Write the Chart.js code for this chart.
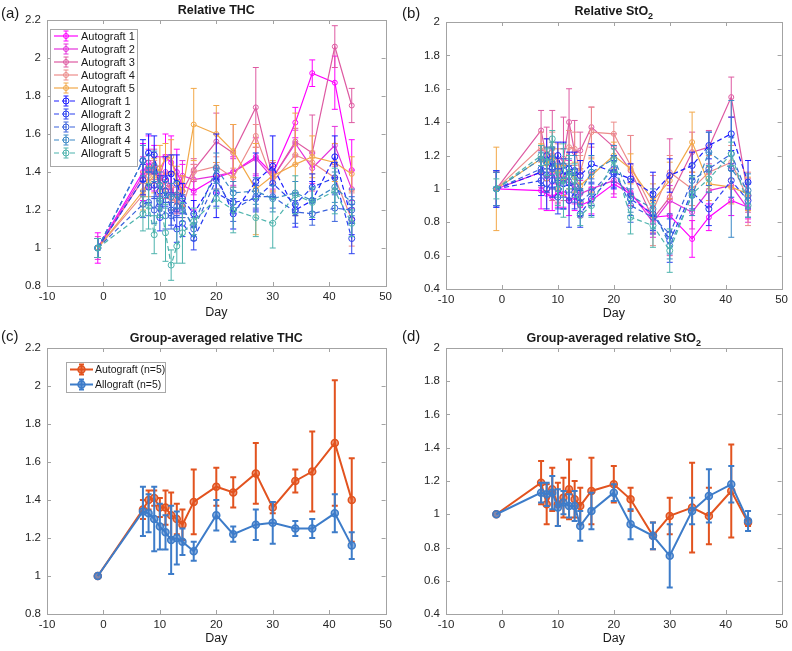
<!DOCTYPE html>
<html>
<head>
<meta charset="utf-8">
<script src="https://cdn.jsdelivr.net/npm/chart.js@4.4.0/dist/chart.umd.min.js"></script>
<style>
  body { margin: 0; background: #fff; width: 792px; height: 651px; position: relative; overflow: hidden; }
  canvas { position: absolute; }
</style>
</head>
<body>
<canvas id="chartA" width="396" height="325" style="left:0;top:0"></canvas>
<canvas id="chartB" width="396" height="325" style="left:396px;top:0"></canvas>
<canvas id="chartC" width="396" height="326" style="left:0;top:325px"></canvas>
<canvas id="chartD" width="396" height="326" style="left:396px;top:325px"></canvas>
<script>
// measurement days
const days = [-1, 7, 8, 9, 10, 11, 12, 13, 14, 16, 20, 23, 27, 30, 34, 37, 41, 44];

// (a) relative THC per animal
const thcAuto1 = [1.00, 1.40, 1.45, 1.42, 1.38, 1.48, 1.45, 1.40, 1.33, 1.30, 1.37, 1.40, 1.48, 1.39, 1.66, 1.92, 1.87, 1.41];
const thcAuto2 = [1.00, 1.38, 1.42, 1.40, 1.35, 1.40, 1.30, 1.28, 1.38, 1.36, 1.38, 1.40, 1.47, 1.37, 1.55, 1.42, 1.54, 1.31];
const thcAuto3 = [1.00, 1.36, 1.40, 1.44, 1.37, 1.33, 1.32, 1.25, 1.30, 1.41, 1.56, 1.50, 1.74, 1.37, 1.56, 1.50, 2.06, 1.75];
const thcAuto4 = [1.00, 1.28, 1.38, 1.40, 1.33, 1.30, 1.26, 1.24, 1.22, 1.40, 1.43, 1.37, 1.59, 1.35, 1.49, 1.45, 1.37, 1.15];
const thcAuto5 = [1.00, 1.30, 1.35, 1.38, 1.42, 1.47, 1.48, 1.35, 1.30, 1.65, 1.60, 1.51, 1.31, 1.38, 1.44, 1.48, 1.45, 1.39];
const thcAllo1 = [1.00, 1.46, 1.50, 1.49, 1.30, 1.36, 1.39, 1.34, 1.26, 1.18, 1.38, 1.18, 1.35, 1.43, 1.20, 1.25, 1.48, 1.15];
const thcAllo2 = [1.00, 1.36, 1.32, 1.33, 1.16, 1.30, 1.20, 1.10, 1.13, 1.05, 1.29, 1.24, 1.26, 1.34, 1.23, 1.32, 1.37, 1.05];
const thcAllo3 = [1.00, 1.23, 1.24, 1.20, 1.26, 1.17, 1.17, 1.22, 1.22, 1.10, 1.36, 1.20, 1.27, 1.27, 1.19, 1.18, 1.21, 1.20];
const thcAllo4 = [1.00, 1.46, 1.41, 1.43, 1.33, 1.28, 1.27, 1.28, 1.20, 1.12, 1.42, 1.29, 1.30, 1.26, 1.29, 1.25, 1.32, 1.24];
const thcAllo5 = [1.00, 1.18, 1.22, 1.07, 1.25, 1.08, 0.91, 1.01, 1.08, 1.14, 1.26, 1.20, 1.16, 1.13, 1.28, 1.24, 1.30, 1.13];

const thcAuto1Err = [0.08, 0.15, 0.14, 0.12, 0.10, 0.12, 0.14, 0.12, 0.11, 0.10, 0.08, 0.08, 0.10, 0.06, 0.08, 0.07, 0.14, 0.16];
const thcAuto2Err = [0.06, 0.10, 0.10, 0.08, 0.08, 0.09, 0.10, 0.08, 0.08, 0.08, 0.07, 0.07, 0.08, 0.06, 0.07, 0.08, 0.10, 0.10];
const thcAuto3Err = [0.05, 0.08, 0.06, 0.08, 0.06, 0.07, 0.08, 0.07, 0.08, 0.06, 0.15, 0.15, 0.21, 0.08, 0.07, 0.20, 0.11, 0.09];
const thcAuto4Err = [0.05, 0.06, 0.05, 0.06, 0.05, 0.06, 0.06, 0.05, 0.06, 0.04, 0.05, 0.05, 0.06, 0.05, 0.05, 0.06, 0.06, 0.14];
const thcAuto5Err = [0.05, 0.10, 0.08, 0.09, 0.12, 0.08, 0.09, 0.08, 0.08, 0.19, 0.15, 0.14, 0.24, 0.08, 0.27, 0.11, 0.10, 0.09];
const thcAllo1Err = [0.05, 0.11, 0.10, 0.10, 0.08, 0.12, 0.10, 0.15, 0.08, 0.07, 0.22, 0.08, 0.15, 0.16, 0.09, 0.10, 0.11, 0.08];
const thcAllo2Err = [0.05, 0.08, 0.08, 0.07, 0.07, 0.08, 0.08, 0.07, 0.07, 0.06, 0.07, 0.06, 0.07, 0.07, 0.06, 0.07, 0.08, 0.08];
const thcAllo3Err = [0.05, 0.07, 0.07, 0.07, 0.06, 0.07, 0.07, 0.06, 0.06, 0.06, 0.06, 0.06, 0.06, 0.06, 0.06, 0.06, 0.07, 0.07];
const thcAllo4Err = [0.05, 0.08, 0.08, 0.08, 0.07, 0.07, 0.07, 0.07, 0.06, 0.06, 0.08, 0.06, 0.07, 0.07, 0.06, 0.06, 0.08, 0.07];
const thcAllo5Err = [0.05, 0.09, 0.12, 0.10, 0.09, 0.15, 0.08, 0.09, 0.16, 0.07, 0.05, 0.12, 0.10, 0.13, 0.10, 0.08, 0.12, 0.07];

// (b) relative StO2 per animal
const stoAuto1 = [1.00, 0.99, 0.97, 0.95, 0.98, 0.97, 0.93, 0.95, 0.90, 0.93, 1.03, 0.97, 0.83, 0.84, 0.70, 0.83, 0.93, 0.89];
const stoAuto2 = [1.00, 1.10, 1.06, 1.10, 1.00, 1.08, 1.05, 1.00, 0.97, 1.00, 1.05, 0.98, 0.80, 0.93, 0.86, 0.99, 1.02, 0.88];
const stoAuto3 = [1.00, 1.35, 1.18, 1.20, 1.05, 1.18, 1.40, 1.22, 1.23, 1.37, 1.25, 1.11, 0.82, 0.95, 1.22, 1.25, 1.55, 0.96];
const stoAuto4 = [1.00, 1.25, 1.21, 1.24, 1.15, 1.14, 1.25, 1.24, 1.10, 1.34, 1.33, 1.14, 0.87, 1.10, 1.00, 1.10, 1.16, 0.94];
const stoAuto5 = [1.00, 1.18, 1.15, 1.19, 1.12, 1.05, 1.10, 1.07, 1.02, 1.08, 1.20, 1.12, 0.93, 1.05, 1.28, 1.03, 1.01, 0.97];
const stoAllo1 = [1.00, 1.10, 1.20, 1.13, 1.20, 1.08, 1.12, 1.11, 1.08, 1.15, 1.10, 1.06, 0.97, 1.08, 1.14, 1.26, 1.33, 1.04];
const stoAllo2 = [1.00, 1.05, 1.00, 1.05, 0.95, 1.03, 0.93, 0.98, 0.85, 0.94, 1.09, 0.94, 0.85, 0.69, 0.98, 0.88, 1.05, 0.93];
const stoAllo3 = [1.00, 1.12, 1.08, 1.12, 1.00, 1.05, 1.04, 1.02, 0.92, 0.98, 1.12, 0.90, 0.83, 0.73, 1.05, 1.12, 1.21, 0.96];
const stoAllo4 = [1.00, 1.18, 1.16, 1.18, 1.05, 1.14, 1.08, 1.10, 0.98, 1.10, 1.18, 0.96, 0.88, 0.66, 0.96, 1.22, 1.12, 0.99];
const stoAllo5 = [1.00, 1.20, 1.16, 1.30, 1.00, 1.05, 1.10, 1.05, 0.84, 0.90, 1.17, 0.83, 0.78, 0.63, 0.97, 1.06, 1.21, 0.90];

const stoAuto1Err = [0.10, 0.11, 0.10, 0.08, 0.09, 0.08, 0.09, 0.08, 0.07, 0.08, 0.08, 0.07, 0.10, 0.10, 0.11, 0.08, 0.09, 0.07];
const stoAuto2Err = [0.10, 0.09, 0.08, 0.10, 0.09, 0.10, 0.12, 0.09, 0.08, 0.10, 0.08, 0.08, 0.09, 0.09, 0.10, 0.10, 0.10, 0.08];
const stoAuto3Err = [0.10, 0.12, 0.19, 0.27, 0.13, 0.25, 0.20, 0.19, 0.11, 0.12, 0.08, 0.21, 0.08, 0.35, 0.12, 0.10, 0.12, 0.10];
const stoAuto4Err = [0.10, 0.09, 0.09, 0.10, 0.12, 0.10, 0.10, 0.10, 0.10, 0.15, 0.07, 0.18, 0.21, 0.10, 0.10, 0.10, 0.10, 0.16];
const stoAuto5Err = [0.25, 0.09, 0.10, 0.09, 0.12, 0.09, 0.10, 0.09, 0.10, 0.10, 0.08, 0.09, 0.10, 0.11, 0.18, 0.10, 0.10, 0.10];
const stoAllo1Err = [0.11, 0.08, 0.10, 0.12, 0.08, 0.20, 0.10, 0.11, 0.09, 0.12, 0.10, 0.09, 0.13, 0.10, 0.08, 0.08, 0.10, 0.13];
const stoAllo2Err = [0.11, 0.09, 0.12, 0.10, 0.10, 0.15, 0.16, 0.10, 0.08, 0.10, 0.08, 0.10, 0.10, 0.13, 0.10, 0.10, 0.10, 0.10];
const stoAllo3Err = [0.10, 0.10, 0.10, 0.12, 0.12, 0.10, 0.10, 0.10, 0.08, 0.08, 0.08, 0.10, 0.10, 0.12, 0.10, 0.10, 0.10, 0.08];
const stoAllo4Err = [0.10, 0.08, 0.09, 0.10, 0.10, 0.10, 0.10, 0.10, 0.08, 0.10, 0.08, 0.10, 0.12, 0.08, 0.12, 0.12, 0.41, 0.10];
const stoAllo5Err = [0.06, 0.06, 0.08, 0.05, 0.10, 0.22, 0.10, 0.10, 0.06, 0.07, 0.07, 0.10, 0.13, 0.13, 0.10, 0.08, 0.07, 0.07];

// (c) group-averaged THC
const thcAutoMean = [1.00, 1.35, 1.40, 1.41, 1.36, 1.36, 1.32, 1.30, 1.27, 1.39, 1.47, 1.44, 1.54, 1.36, 1.50, 1.55, 1.70, 1.40];
const thcAutoSd   = [0.00, 0.05, 0.05, 0.04, 0.05, 0.09, 0.12, 0.08, 0.08, 0.17, 0.10, 0.08, 0.16, 0.03, 0.06, 0.21, 0.33, 0.22];
const thcAlloMean = [1.00, 1.34, 1.33, 1.30, 1.26, 1.23, 1.19, 1.20, 1.18, 1.13, 1.32, 1.22, 1.27, 1.28, 1.25, 1.25, 1.33, 1.16];
const thcAlloSd   = [0.00, 0.13, 0.10, 0.17, 0.12, 0.09, 0.18, 0.14, 0.07, 0.05, 0.08, 0.04, 0.08, 0.11, 0.04, 0.05, 0.10, 0.07];

// (d) group-averaged StO2
const stoAutoMean = [1.00, 1.19, 1.06, 1.15, 1.06, 1.10, 1.15, 1.09, 1.05, 1.14, 1.18, 1.09, 0.87, 0.99, 1.04, 0.99, 1.14, 0.95];
const stoAutoSd   = [0.00, 0.13, 0.12, 0.13, 0.13, 0.12, 0.18, 0.11, 0.11, 0.20, 0.11, 0.07, 0.08, 0.11, 0.27, 0.17, 0.28, 0.02];
const stoAlloMean = [1.00, 1.13, 1.12, 1.13, 1.04, 1.07, 1.05, 1.05, 0.93, 1.02, 1.13, 0.94, 0.87, 0.75, 1.02, 1.11, 1.18, 0.96];
const stoAlloSd   = [0.00, 0.06, 0.07, 0.10, 0.11, 0.07, 0.07, 0.09, 0.09, 0.11, 0.05, 0.09, 0.08, 0.19, 0.08, 0.16, 0.11, 0.06];

const autoLabels = ['Autograft 1', 'Autograft 2', 'Autograft 3', 'Autograft 4', 'Autograft 5'];
const alloLabels = ['Allograft 1', 'Allograft 2', 'Allograft 3', 'Allograft 4', 'Allograft 5'];
const groupLabels = ['Autograft (n=5)', 'Allograft (n=5)'];

const autoColors = ['#ff00ff', '#e431dc', '#de5aa2', '#ec8c8a', '#f2a848'];
const alloColors = ['#1c1cff', '#2a40f0', '#3a62dc', '#3a88c6', '#4db3ad'];
const groupColors = ['#e2531f', '#3d7cc9'];

const FONT = '"Liberation Sans", Arial, Helvetica, sans-serif';

// error bars drawn under each dataset
const errorBars = {
    id: 'errorBars',
    beforeDatasetDraw(chart, args) {
        const ds = chart.data.datasets[args.index];
        if (!ds.err) return;
        const y = chart.scales.y;
        const ctx = chart.ctx;
        ctx.save();
        ctx.strokeStyle = ds.borderColor;
        ctx.lineWidth = ds.errWidth;
        ctx.setLineDash([]);
        args.meta.data.forEach((pt, i) => {
            const e = ds.err[i];
            if (!e) return;
            const v = ds.data[i].y;
            const top = y.getPixelForValue(v + e);
            const bot = y.getPixelForValue(v - e);
            const c = ds.capHalf;
            ctx.beginPath();
            ctx.moveTo(pt.x, top); ctx.lineTo(pt.x, bot);
            ctx.moveTo(pt.x - c, top); ctx.lineTo(pt.x + c, top);
            ctx.moveTo(pt.x - c, bot); ctx.lineTo(pt.x + c, bot);
            ctx.stroke();
        });
        ctx.restore();
    }
};

// box, inward ticks, titles, legend
const panelDecor = {
    id: 'panelDecor',
    afterDraw(chart, args, o) {
        const ctx = chart.ctx;
        const a = chart.chartArea;
        const xs = chart.scales.x, ys = chart.scales.y;
        ctx.save();
        ctx.strokeStyle = '#a3a3a3';
        ctx.lineWidth = 1;
        ctx.setLineDash([]);
        ctx.strokeRect(Math.round(a.left) + 0.5, Math.round(a.top) + 0.5, Math.round(a.right - a.left), Math.round(a.bottom - a.top));
        ctx.beginPath();
        xs.ticks.forEach(t => {
            const px = Math.round(xs.getPixelForValue(t.value)) + 0.5;
            ctx.moveTo(px, a.bottom); ctx.lineTo(px, a.bottom - 4);
            ctx.moveTo(px, a.top); ctx.lineTo(px, a.top + 4);
        });
        ys.ticks.forEach(t => {
            const py = Math.round(ys.getPixelForValue(t.value)) + 0.5;
            ctx.moveTo(a.left, py); ctx.lineTo(a.left + 4, py);
            ctx.moveTo(a.right, py); ctx.lineTo(a.right - 4, py);
        });
        ctx.stroke();

        ctx.fillStyle = '#1a1a1a';
        ctx.textBaseline = 'middle';
        ctx.textAlign = 'left';
        ctx.font = '15px ' + FONT;
        ctx.fillText(o.tag, o.tagX, o.tagY);

        // title with optional subscript
        const cx = (a.left + a.right) / 2;
        ctx.font = 'bold 12.5px ' + FONT;
        const w1 = ctx.measureText(o.title).width;
        let w2 = 0;
        if (o.sub) { ctx.font = 'bold 9px ' + FONT; w2 = ctx.measureText(o.sub).width; }
        const sx = cx - (w1 + w2) / 2;
        ctx.font = 'bold 12.5px ' + FONT;
        ctx.fillText(o.title, sx, o.titleY);
        if (o.sub) { ctx.font = 'bold 9px ' + FONT; ctx.fillText(o.sub, sx + w1, o.titleY + 5); }

        ctx.textAlign = 'center';
        ctx.font = '12.5px ' + FONT;
        ctx.fillText('Day', cx, o.dayY);

        if (o.legend) {
            const L = o.legend;
            ctx.fillStyle = '#fff';
            ctx.fillRect(L.x, L.y, L.w, L.h);
            ctx.strokeStyle = '#a8a8a8';
            ctx.strokeRect(L.x + 0.5, L.y + 0.5, L.w, L.h);
            chart.data.datasets.forEach((ds, i) => {
                const ry = L.row0 + i * L.step;
                ctx.strokeStyle = ds.borderColor;
                ctx.lineWidth = ds.borderWidth;
                ctx.setLineDash(ds.borderDash || []);
                ctx.beginPath();
                ctx.moveTo(L.lx1, ry); ctx.lineTo(L.lx2, ry);
                ctx.stroke();
                ctx.setLineDash([]);
                ctx.lineWidth = ds.errWidth;
                ctx.beginPath();
                ctx.moveTo(L.mx, ry - 5); ctx.lineTo(L.mx, ry + 5);
                ctx.moveTo(L.mx - 2.5, ry - 5); ctx.lineTo(L.mx + 2.5, ry - 5);
                ctx.moveTo(L.mx - 2.5, ry + 5); ctx.lineTo(L.mx + 2.5, ry + 5);
                ctx.stroke();
                ctx.lineWidth = ds.pointBorderWidth;
                ctx.fillStyle = ds.pointBackgroundColor;
                ctx.beginPath();
                ctx.arc(L.mx, ry, ds.pointRadius, 0, Math.PI * 2);
                ctx.fill(); ctx.stroke();
                ctx.fillStyle = '#1a1a1a';
                ctx.textAlign = 'left';
                ctx.font = L.font + 'px ' + FONT;
                ctx.fillText(ds.label, L.tx, ry + 0.5);
            });
        }
        ctx.restore();
    }
};

function toPoints(vals) {
    return days.map((d, i) => ({ x: d, y: vals[i] }));
}

function animalSet(label, vals, errs, color, dashed, order) {
    return {
        label: label, data: toPoints(vals), err: errs, order: order,
        showLine: true, borderColor: color, backgroundColor: color,
        borderWidth: 1.2, borderDash: dashed ? [5, 3] : [],
        pointRadius: dashed ? 3 : 2.5, pointBorderWidth: 1,
        pointBorderColor: color, pointBackgroundColor: 'rgba(255,255,255,0)',
        errWidth: 1, capHalf: 3
    };
}

function groupSet(label, vals, errs, color, order) {
    return {
        label: label, data: toPoints(vals), err: errs, order: order,
        showLine: true, borderColor: color, backgroundColor: color,
        borderWidth: 2, borderDash: [],
        pointRadius: 3.5, pointBorderWidth: 1.5,
        pointBorderColor: color, pointBackgroundColor: color + '99',
        errWidth: 2, capHalf: 3
    };
}

function makePanel(id, datasets, yMin, yMax, area, decor) {
    const canvas = document.getElementById(id);
    const W = canvas.width, H = canvas.height;
    return new Chart(canvas, {
        type: 'scatter',
        data: { datasets: datasets },
        plugins: [errorBars, panelDecor],
        options: {
            responsive: false,
            animation: false,
            events: [],
            layout: { padding: { top: area.top, right: W - area.right, left: 0, bottom: 0 } },
            plugins: { legend: { display: false }, tooltip: { enabled: false }, panelDecor: decor },
            scales: {
                x: {
                    type: 'linear', min: -10, max: 50,
                    grid: { display: false, drawTicks: false, tickLength: 0 }, border: { display: false },
                    ticks: { stepSize: 10, autoSkip: false, maxRotation: 0, padding: 4, color: '#262626', font: { family: FONT, size: 11.5 } },
                    afterFit: s => { s.height = H - area.bottom; }
                },
                y: {
                    min: yMin, max: yMax,
                    grid: { display: false, drawTicks: false, tickLength: 0 }, border: { display: false },
                    ticks: {
                        stepSize: 0.2, padding: 6, color: '#262626', font: { family: FONT, size: 11.5 },
                        callback: v => String(Math.round(v * 10) / 10)
                    },
                    afterFit: s => { s.width = area.left; }
                }
            }
        }
    });
}

const thcAnimals = [thcAuto1, thcAuto2, thcAuto3, thcAuto4, thcAuto5, thcAllo1, thcAllo2, thcAllo3, thcAllo4, thcAllo5];
const thcAnimalErr = [thcAuto1Err, thcAuto2Err, thcAuto3Err, thcAuto4Err, thcAuto5Err, thcAllo1Err, thcAllo2Err, thcAllo3Err, thcAllo4Err, thcAllo5Err];
const stoAnimals = [stoAuto1, stoAuto2, stoAuto3, stoAuto4, stoAuto5, stoAllo1, stoAllo2, stoAllo3, stoAllo4, stoAllo5];
const stoAnimalErr = [stoAuto1Err, stoAuto2Err, stoAuto3Err, stoAuto4Err, stoAuto5Err, stoAllo1Err, stoAllo2Err, stoAllo3Err, stoAllo4Err, stoAllo5Err];

function animalSets(vals, errs) {
    const labels = autoLabels.concat(alloLabels);
    const colors = autoColors.concat(alloColors);
    return labels.map((lab, i) => animalSet(lab, vals[i], errs[i], colors[i], i >= 5, 10 - i));
}

const legendA = { x: 50, y: 29, w: 87, h: 137, row0: 36, step: 13, lx1: 54, lx2: 78, mx: 66, tx: 81, font: 11 };
const legendC = { x: 66, y: 37, w: 99, h: 30, row0: 44.5, step: 15, lx1: 70, lx2: 93, mx: 81.5, tx: 95, font: 10.5 };

makePanel('chartA', animalSets(thcAnimals, thcAnimalErr), 0.8, 2.2,
    { left: 47, right: 386, top: 20, bottom: 286 },
    { tag: '(a)', tagX: 1, tagY: 14, title: 'Relative THC', titleY: 11, dayY: 313, legend: legendA });

makePanel('chartB', animalSets(stoAnimals, stoAnimalErr), 0.4, 2.0,
    { left: 50, right: 390, top: 22, bottom: 289 },
    { tag: '(b)', tagX: 6, tagY: 14, title: 'Relative StO', sub: '2', titleY: 12, dayY: 314 });

makePanel('chartC', [
    groupSet(groupLabels[0], thcAutoMean, thcAutoSd, groupColors[0], 2),
    groupSet(groupLabels[1], thcAlloMean, thcAlloSd, groupColors[1], 1)
], 0.8, 2.2,
    { left: 47, right: 386, top: 23, bottom: 289 },
    { tag: '(c)', tagX: 1, tagY: 12, title: 'Group-averaged relative THC', titleY: 14, dayY: 314, legend: legendC });

makePanel('chartD', [
    groupSet(groupLabels[0], stoAutoMean, stoAutoSd, groupColors[0], 2),
    groupSet(groupLabels[1], stoAlloMean, stoAlloSd, groupColors[1], 1)
], 0.4, 2.0,
    { left: 50, right: 390, top: 23, bottom: 289 },
    { tag: '(d)', tagX: 6, tagY: 12, title: 'Group-averaged relative StO', sub: '2', titleY: 14, dayY: 314 });
</script>
</body>
</html>
